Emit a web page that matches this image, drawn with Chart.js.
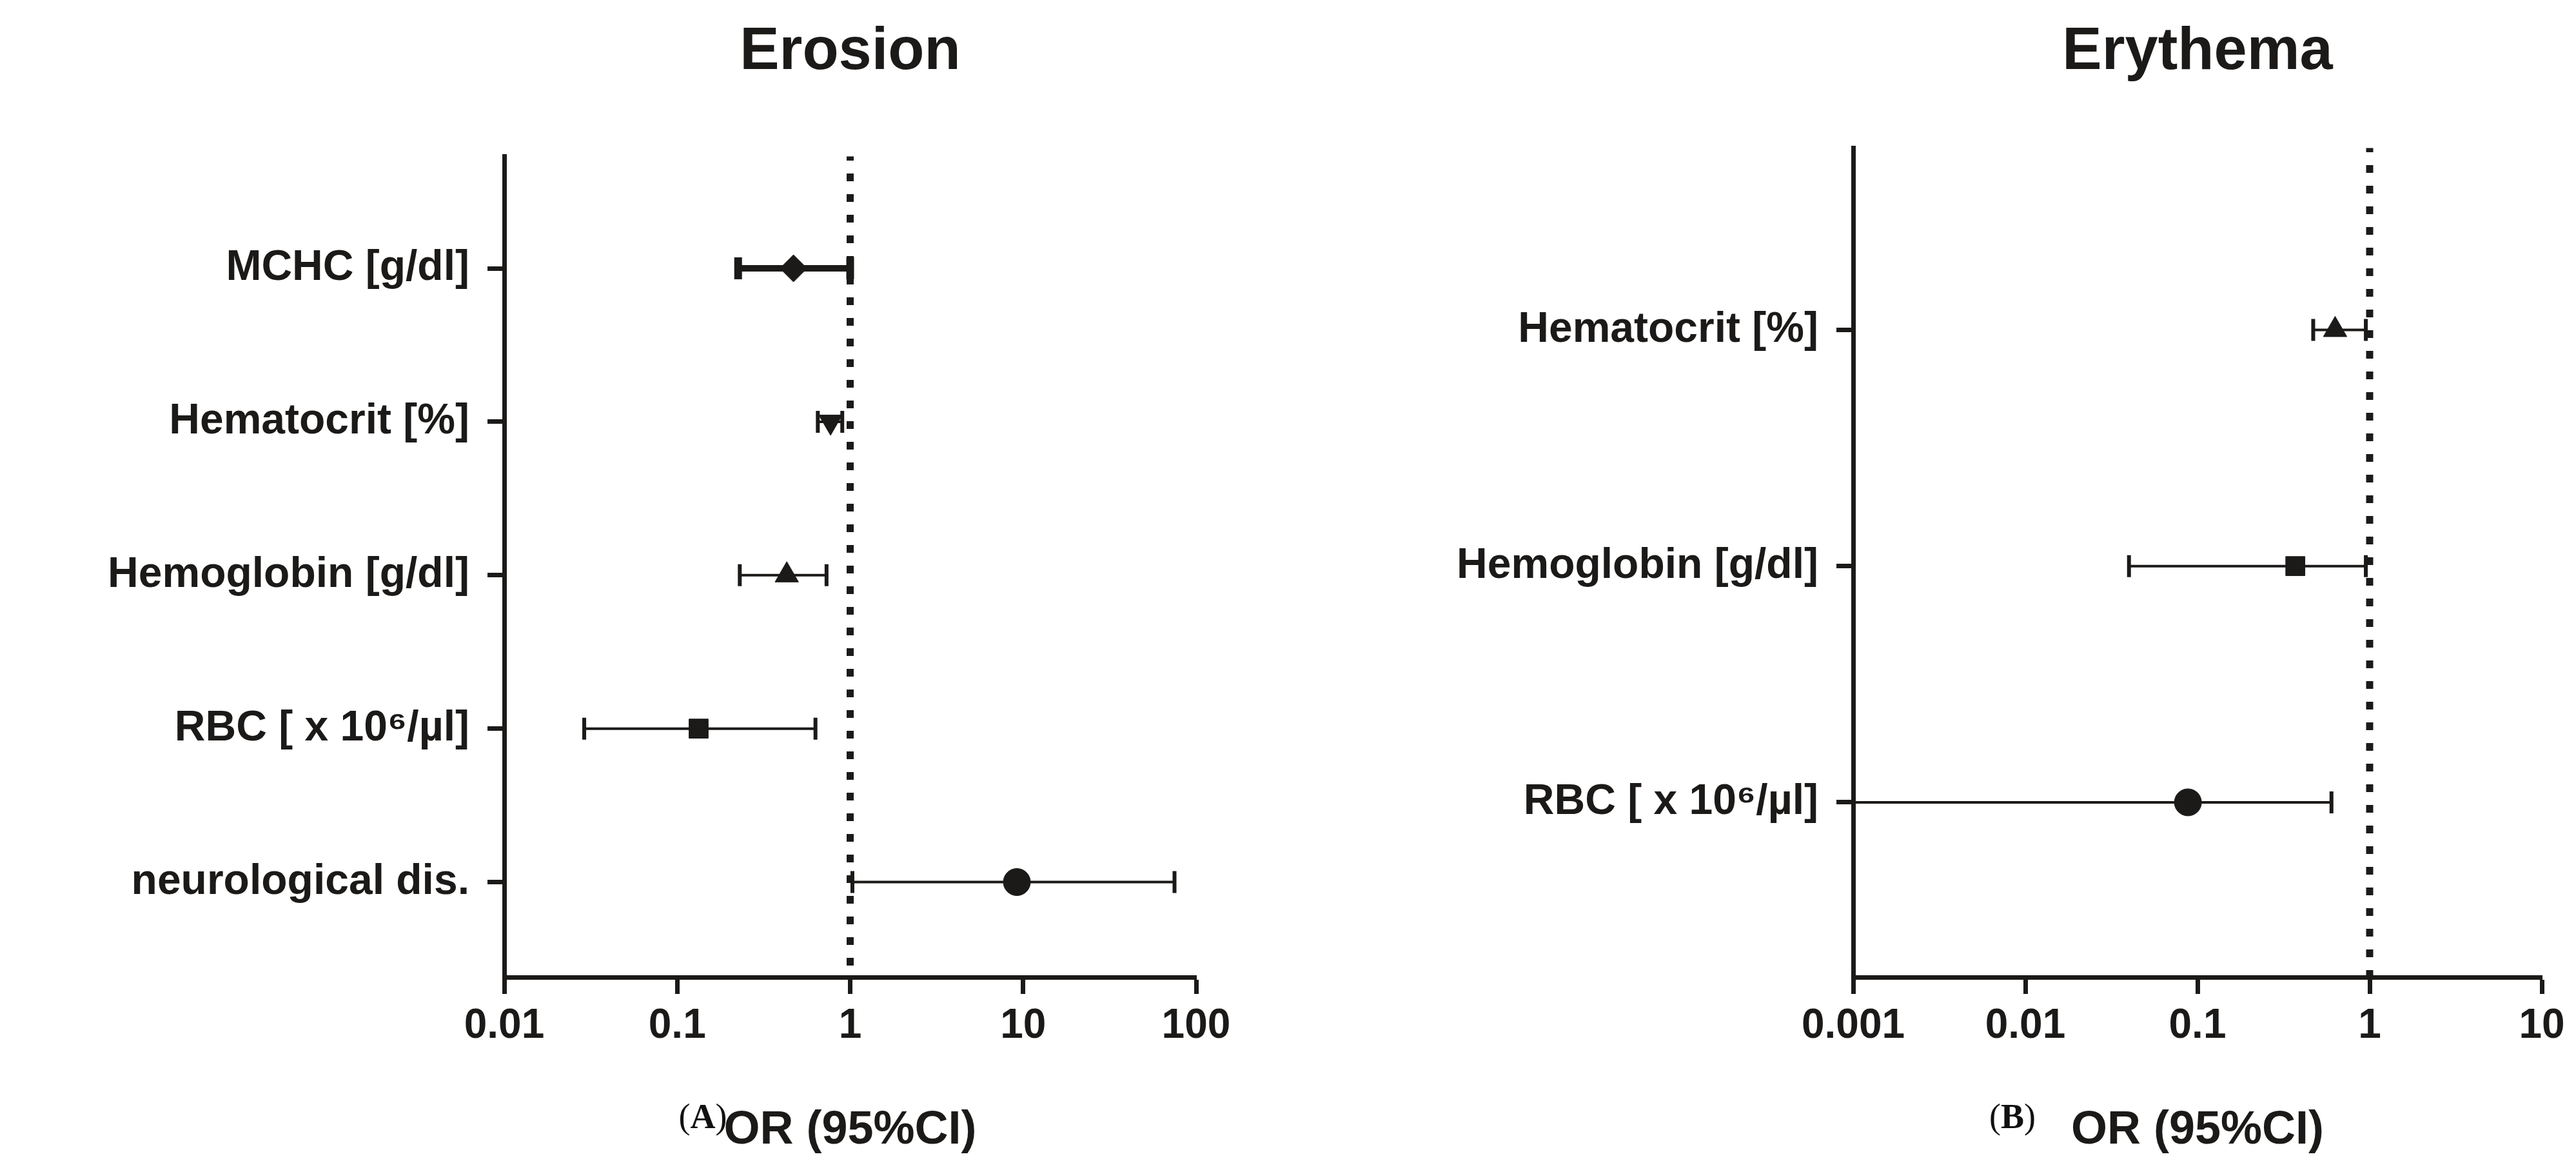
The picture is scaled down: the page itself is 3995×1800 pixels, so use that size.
<!DOCTYPE html>
<html>
<head>
<meta charset="utf-8">
<script src="https://cdn.jsdelivr.net/npm/chart.js@4.4.1/dist/chart.umd.min.js"></script>
<style>
  body { margin: 0; width: 3995px; height: 1800px; background: #fff; position: relative; overflow: hidden; }
  canvas { position: absolute; top: 0; }
  .lab { position: absolute; top: 1700px; font-family: "Liberation Serif", serif; font-size: 54px; color: #111; transform: translateX(-50%); }
</style>
</head>
<body>
<canvas id="a" style="left:0"></canvas>
<canvas id="b" style="left:1990px"></canvas>
<div class="lab" style="left:1090px">(<b>A</b>)</div>
<div class="lab" style="left:3121px">(<b>B</b>)</div>
<script>
// Erosion
const rowsA = ['MCHC [g/dl]', 'Hematocrit [%]', 'Hemoglobin [g/dl]', 'RBC [ x 10\u2076/\u00b5l]', 'neurological dis.'];
const orA = [0.47, 0.77, 0.43, 0.133, 9.2];
const loA = [0.225, 0.65, 0.23, 0.029, 1.03];
const hiA = [1.0, 0.9, 0.73, 0.63, 75];
const markA = ['rectRot', 'triangle', 'triangle', 'rect', 'circle'];
const rotA = [0, 180, 0, 0, 0];
const xTicksA = [0.01, 0.1, 1, 10, 100];

// Erythema
const rowsB = ['Hematocrit [%]', 'Hemoglobin [g/dl]', 'RBC [ x 10\u2076/\u00b5l]'];
const orB = [0.63, 0.37, 0.088];
const loB = [0.47, 0.04, 0.0005];
const hiB = [0.95, 0.95, 0.6];
const markB = ['triangle', 'rect', 'circle'];
const rotB = [0, 0, 0];
const xTicksB = [0.001, 0.01, 0.1, 1, 10];

const INK = '#1c1a18';
const FONT = 'Liberation Sans, Arial, sans-serif';

function build(id, o) {
  const ds = [];
  // dotted reference line at OR = 1
  ds.push({ type: 'line', data: [{ x: 1, y: o.ymin }, { x: 1, y: o.ymax }], borderColor: INK,
    borderWidth: 11, borderDash: [1, 31], borderCapStyle: 'square', pointRadius: 0, order: 3 });
  o.rows.forEach((r, i) => {
    ds.push({ type: 'line', data: [{ x: o.lo[i], y: i + 1 }, { x: o.hi[i], y: i + 1 }],
      borderColor: INK, borderWidth: o.bw[i], pointStyle: 'line', rotation: 90,
      pointRadius: 17, pointBorderWidth: o.bw[i] + 2, pointBorderColor: INK, order: 2 });
  });
  ds.push({ type: 'scatter', data: o.or.map((v, i) => ({ x: v, y: i + 1 })),
    pointStyle: o.mark, rotation: o.rot, pointRadius: 21, backgroundColor: INK, borderColor: INK, order: 1 });

  new Chart(document.getElementById(id), {
    type: 'scatter',
    data: { datasets: ds },
    options: {
      responsive: false, animation: false, devicePixelRatio: 1,
      layout: { padding: { right: o.padR, bottom: 0, top: 0 } },
      plugins: {
        legend: { display: false }, tooltip: { enabled: false },
        title: { display: true, text: o.title, fullSize: false, color: INK,
          font: { family: FONT, size: 92, weight: 'bold' }, padding: { top: 26, bottom: o.tBot } }
      },
      scales: {
        x: { type: 'logarithmic', min: o.xt[0], max: o.xt[o.xt.length - 1],
          afterBuildTicks: s => { s.ticks = o.xt.map(v => ({ value: v })); },
          afterFit: s => { s.height = 285; },
          ticks: { color: INK, font: { family: FONT, size: 64, weight: 'bold' }, padding: 12,
            maxRotation: 0, callback: v => String(v) },
          grid: { drawOnChartArea: false, tickLength: 26, tickWidth: 7, color: INK },
          border: { width: 7, color: INK },
          title: { display: true, text: 'OR (95%CI)', color: INK, font: { family: FONT, size: 72, weight: 'bold' },
            padding: { top: 60 } } },
        y: { type: 'linear', reverse: true, min: o.ymin, max: o.ymax,
          afterBuildTicks: s => { s.ticks = o.rows.map((r, i) => ({ value: i + 1 })); },
          afterFit: s => { s.width = o.yw; },
          ticks: { color: INK, font: { family: FONT, size: 66, weight: 'bold' }, padding: 28,
            callback: v => o.rows[v - 1] },
          grid: { drawOnChartArea: false, tickLength: 26, tickWidth: 7, color: INK },
          border: { width: 7, color: INK } }
      }
    }
  });
}

const ca = document.getElementById('a'); ca.width = 2000; ca.height = 1800;
const cb = document.getElementById('b'); cb.width = 2005; cb.height = 1800;

build('a', { title: 'Erosion', rows: rowsA, or: orA, lo: loA, hi: hiA, mark: markA, rot: rotA, xt: xTicksA,
  bw: [10, 4, 4, 4, 4], ymin: 0.27, ymax: 5.62, yw: 782, padR: 2000 - 1855, tBot: 106 });
build('b', { title: 'Erythema', rows: rowsB, or: orB, lo: loB, hi: hiB, mark: markB, rot: rotB, xt: xTicksB,
  bw: [4, 4, 4], ymin: 0.23, ymax: 3.74, yw: 2874 - 1990, padR: 2005 - 3942 + 1990, tBot: 93 });
</script>
</body>
</html>
